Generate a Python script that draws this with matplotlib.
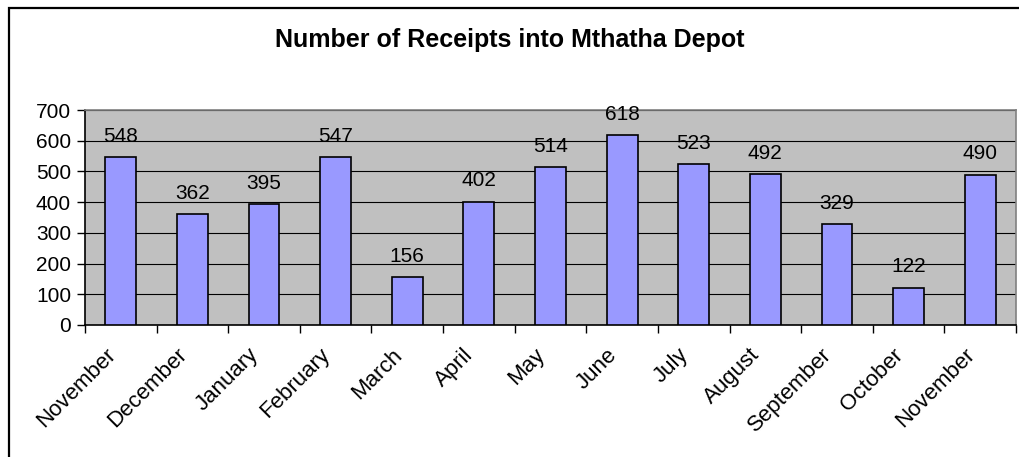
import matplotlib
matplotlib.use("Agg")
import matplotlib.pyplot as plt
from matplotlib.patches import Rectangle
from matplotlib.transforms import ScaledTranslation
import numpy as np

months = ["November", "December", "January", "February", "March", "April", "May",
          "June", "July", "August", "September", "October", "November"]
receipts = [548, 362, 395, 547, 156, 402, 514, 618, 523, 492, 329, 122, 490]
yticks = [0, 100, 200, 300, 400, 500, 600, 700]

plt.rcParams['font.family'] = ['Liberation Sans', 'DejaVu Sans']

fig = plt.figure(figsize=(10.2, 4.57), dpi=100)
fig.patch.set_facecolor('white')

# outer chart border (only top and left visible in the crop)
fig.add_artist(Rectangle((9 / 1020, -0.1), 1.2, 1 - 8 / 457 + 0.1, transform=fig.transFigure,
                         fill=False, edgecolor='black', linewidth=1.6))

ax = fig.add_axes([85 / 1020, 1 - 325 / 457, (1016 - 85) / 1020, (325 - 110) / 457])
ax.set_facecolor('#C0C0C0')

x = np.arange(len(months))
ax.bar(x, receipts, width=0.43, color='#9999FF', edgecolor='black', linewidth=1.2, zorder=3)

for xi, v in zip(x, receipts):
    ax.annotate(str(v), (xi, v), xytext=(0, 8), textcoords='offset points',
                ha='center', va='bottom', fontsize=15)

ax.set_xlim(-0.5, len(months) - 0.5)
ax.set_ylim(0, 700)
ax.set_yticks(yticks)
ax.set_yticklabels([str(t) for t in yticks], fontsize=15)
ax.yaxis.grid(True, color='black', linewidth=0.8, zorder=1)
ax.set_axisbelow(True)

ax.set_xticks(x)
ax.set_xticklabels(months, rotation=45, ha='right', va='top', rotation_mode='anchor', fontsize=16)
ax.tick_params(axis='x', length=0, pad=14)
shift = ScaledTranslation(-16 / 100, 0, fig.dpi_scale_trans)
for lab in ax.get_xticklabels():
    lab.set_transform(lab.get_transform() + shift)
ax.set_xticks(np.arange(len(months) + 1) - 0.5, minor=True)
ax.tick_params(axis='x', which='minor', length=6, width=1, color='black')
ax.tick_params(axis='y', length=6, width=1, color='black', pad=4)

for side in ['top', 'right']:
    ax.spines[side].set_color('#808080')
    ax.spines[side].set_linewidth(1.2)
for side in ['left', 'bottom']:
    ax.spines[side].set_color('black')
    ax.spines[side].set_linewidth(1.2)

fig.text(510 / 1020, 1 - 40 / 457, "Number of Receipts into Mthatha Depot",
         ha='center', va='center', fontsize=18, fontweight='bold')

fig.savefig("out.png", dpi=100)
